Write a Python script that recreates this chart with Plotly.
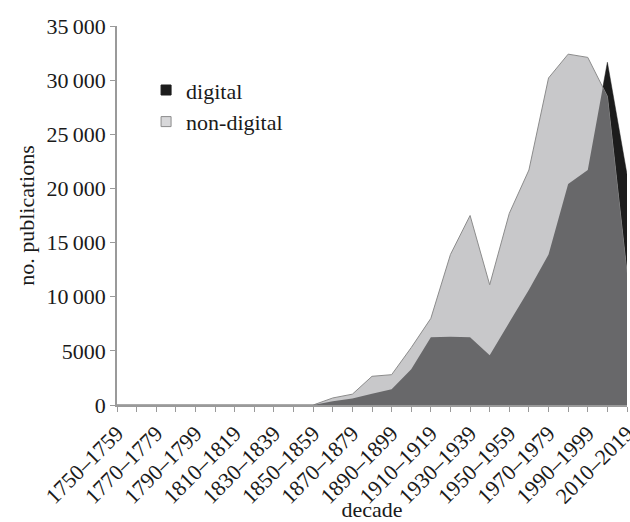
import plotly.graph_objects as go

decades = [f"{y}\u2013{y+9}" for y in range(1750, 2020, 10)]
# values
non_digital = [0, 0, 0, 0, 0, 0, 0, 0, 0, 0,
               0, 650, 1000, 2650, 2800, 5300, 8000, 13900, 17500, 11100,
               17700, 21700, 30200, 32400, 32100, 28500, 12200]
digital = [0, 0, 0, 0, 0, 0, 0, 0, 0, 0,
           0, 350, 600, 1050, 1450, 3300, 6250, 6300, 6250, 4600,
           7600, 10650, 13900, 20400, 21700, 31650, 21300]
y_ticks = [0, 5000, 10000, 15000, 20000, 25000, 30000, 35000]
y_labels = ["0", "5000", "10\u2009000", "15\u2009000", "20\u2009000",
            "25\u2009000", "30\u2009000", "35\u2009000"]

xs = list(range(len(decades)))

# overlap region (where both series are present) -> dark grey
ox, oy = [], []
for i in range(len(xs)):
    ox.append(xs[i]); oy.append(min(digital[i], non_digital[i]))
    if i < len(xs) - 1:
        a = digital[i] - non_digital[i]
        b = digital[i + 1] - non_digital[i + 1]
        if a * b < 0:
            t = a / (a - b)
            ox.append(xs[i] + t)
            oy.append(digital[i] + t * (digital[i + 1] - digital[i]))

BLACK = "#1c1c1c"
LIGHT = "#c8c8ca"
DARK = "#68686a"
AX = "#9a9a9a"
FONT = "Liberation Serif"

fig = go.Figure()
fig.add_trace(go.Scatter(x=xs, y=digital, mode="lines", fill="tozeroy",
                         line=dict(color=BLACK, width=0.5), fillcolor=BLACK,
                         showlegend=False, hoverinfo="skip"))
fig.add_trace(go.Scatter(x=xs, y=non_digital, mode="lines", fill="tozeroy",
                         line=dict(color="#8c8c8c", width=1), fillcolor=LIGHT,
                         showlegend=False, hoverinfo="skip"))
fig.add_trace(go.Scatter(x=ox, y=oy, mode="lines", fill="tozeroy",
                         line=dict(color=DARK, width=0), fillcolor=DARK,
                         showlegend=False, hoverinfo="skip"))
# legend entries
fig.add_trace(go.Scatter(x=[None], y=[None], mode="markers", name="digital",
                         marker=dict(symbol="square", size=10, color=BLACK,
                                     line=dict(color=BLACK, width=1))))
fig.add_trace(go.Scatter(x=[None], y=[None], mode="markers", name="non-digital",
                         marker=dict(symbol="square", size=10, color="#d8d8da",
                                     line=dict(color="#8c8c8c", width=1))))

tick_text = [d if i % 2 == 0 else "" for i, d in enumerate(decades)]

fig.update_layout(
    width=630, height=522,
    margin=dict(l=117, r=3, t=26, b=117),
    paper_bgcolor="white", plot_bgcolor="white",
    font=dict(family=FONT, size=22, color="#1a1a1a"),
    showlegend=True,
    legend=dict(x=0.057, y=0.886, xanchor="left", yanchor="top",
                bgcolor="rgba(0,0,0,0)", font=dict(family=FONT, size=22),
                itemwidth=30, tracegroupgap=0),
    xaxis=dict(range=[0, 26], tickvals=xs, ticktext=tick_text, tickangle=-45,
               ticks="outside", ticklen=5, tickcolor=AX, tickwidth=1,
               showline=True, linecolor=AX, linewidth=1.5, showgrid=False,
               zeroline=False, automargin=False, ticklabeloverflow="allow",
               title=dict(text="decade", standoff=0,
                          font=dict(family=FONT, size=22)),
               tickfont=dict(family=FONT, size=22)),
    yaxis=dict(range=[0, 35000], tickvals=y_ticks, ticktext=y_labels,
               ticks="outside", ticklen=5, tickcolor=AX, tickwidth=1,
               showline=True, linecolor=AX, linewidth=1.5, showgrid=False,
               zeroline=False, automargin=False,
               title=dict(text="no. publications", standoff=6,
                          font=dict(family=FONT, size=22)),
               tickfont=dict(family=FONT, size=22)),
)

fig.write_html("out.html", config={"displayModeBar": False},
               post_script="document.body.style.margin='0';"
                           "document.body.style.overflow='hidden';")
